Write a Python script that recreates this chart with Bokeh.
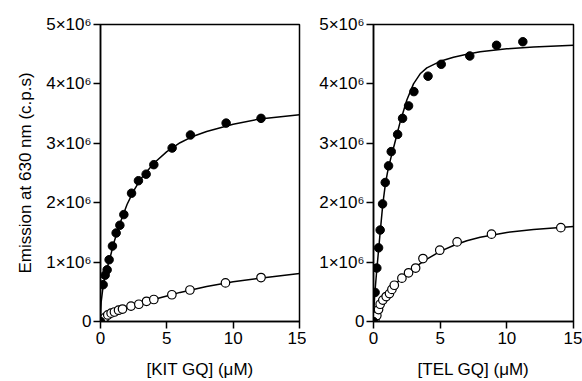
from bokeh.plotting import figure
from bokeh.layouts import row
from bokeh.models import Range1d, FixedTicker
from bokeh.embed import file_html
from bokeh.resources import INLINE

# values in units of 10^6 c.p.s
kit_filled_x = [0, 0.2, 0.35, 0.5, 0.65, 0.9, 1.18, 1.46, 1.76, 2.34, 2.86, 3.44, 4.02, 5.4, 6.78, 9.47, 12.1]
kit_filled_y = [0, 0.62, 0.78, 0.87, 1.04, 1.27, 1.49, 1.62, 1.80, 2.16, 2.37, 2.48, 2.64, 2.92, 3.14, 3.34, 3.42]
kit_open_x = [0, 0.2, 0.35, 0.55, 0.8, 1.05, 1.36, 1.66, 2.3, 2.89, 3.47, 4.02, 5.38, 6.74, 9.42, 12.1]
kit_open_y = [0, 0.04, 0.07, 0.11, 0.14, 0.16, 0.19, 0.21, 0.26, 0.29, 0.34, 0.37, 0.45, 0.53, 0.65, 0.74]

kit_fit_filled_x = [0, 0.02, 0.05, 0.1, 0.2, 0.35, 0.5, 0.75, 1, 1.5, 2, 2.5, 3, 4, 5, 6, 7, 8, 10, 12, 15]
kit_fit_filled_y = [0, 0.2, 0.33, 0.42, 0.6, 0.77, 0.9, 1.1, 1.32, 1.67, 1.97, 2.2, 2.39, 2.66, 2.86, 3.01, 3.12, 3.2, 3.32, 3.41, 3.48]
kit_fit_open_x = [0, 0.25, 0.5, 1, 1.5, 2, 3, 4, 5, 6, 7, 8, 10, 12, 15]
kit_fit_open_y = [0, 0.06, 0.1, 0.16, 0.2, 0.24, 0.31, 0.37, 0.43, 0.49, 0.54, 0.59, 0.67, 0.73, 0.81]

tel_filled_x = [0, 0.12, 0.25, 0.38, 0.5, 0.68, 0.88, 1.13, 1.33, 1.81, 2.18, 2.63, 3.03, 4.09, 5.08, 7.22, 9.23, 11.2]
tel_filled_y = [0, 0.49, 0.90, 1.24, 1.54, 1.98, 2.34, 2.62, 2.86, 3.15, 3.42, 3.63, 3.87, 4.13, 4.33, 4.47, 4.65, 4.71]
tel_open_x = [0, 0.1, 0.25, 0.38, 0.5, 0.7, 0.95, 1.2, 1.38, 1.56, 2.13, 2.63, 3.16, 3.71, 4.97, 6.27, 8.85, 14.05]
tel_open_y = [0, 0.03, 0.1, 0.2, 0.29, 0.36, 0.42, 0.47, 0.54, 0.61, 0.73, 0.82, 0.90, 1.06, 1.20, 1.34, 1.47, 1.58]

tel_fit_filled_x = [0, 0.05, 0.1, 0.25, 0.4, 0.5, 0.7, 0.9, 1.1, 1.3, 1.5, 1.75, 2, 2.5, 3, 3.5, 4, 5, 6, 7, 8, 10, 12, 15]
tel_fit_filled_y = [0, 0.28, 0.48, 0.88, 1.25, 1.5, 1.98, 2.33, 2.57, 2.75, 2.92, 3.14, 3.36, 3.73, 4.0, 4.17, 4.27, 4.38, 4.45, 4.5, 4.54, 4.59, 4.62, 4.65]
tel_fit_open_x = [0, 0.25, 0.5, 1, 1.5, 2, 2.5, 3, 4, 5, 6, 7, 8, 10, 12, 15]
tel_fit_open_y = [0, 0.13, 0.26, 0.45, 0.59, 0.71, 0.81, 0.90, 1.05, 1.18, 1.28, 1.36, 1.42, 1.5, 1.55, 1.6]

x_ticks = [0, 5, 10, 15]
y_ticks = [0, 1, 2, 3, 4, 5]
y_tick_labels = ["0", "1×10⁶", "2×10⁶", "3×10⁶", "4×10⁶", "5×10⁶"]

FONT = "Liberation Sans"
FS = "17px"


def make_panel(width, border_left, border_right, xlabel, ylabel,
               fx, fy, ox, oy, cfx, cfy, cox, coy):
    p = figure(width=width, height=381, output_backend="svg", toolbar_location=None,
               x_range=Range1d(0, 15), y_range=Range1d(0, 5),
               min_border_left=border_left, min_border_right=border_right,
               min_border_top=24, min_border_bottom=59)
    p.grid.visible = False
    p.outline_line_color = "black"
    p.outline_line_width = 1.5
    p.background_fill_color = "white"
    p.border_fill_color = "white"
    for ax in (p.xaxis[0], p.yaxis[0]):
        ax.axis_line_width = 1.5
        ax.axis_line_color = "black"
        ax.major_tick_line_width = 1.5
        ax.major_tick_line_color = "black"
        ax.major_tick_out = 7
        ax.major_tick_in = 0
        ax.minor_tick_line_color = None
        ax.major_label_text_font = FONT
        ax.major_label_text_font_size = FS
        ax.major_label_text_color = "black"
        ax.axis_label_text_font = FONT
        ax.axis_label_text_font_size = FS
        ax.axis_label_text_font_style = "normal"
        ax.axis_label_text_color = "black"
    p.xaxis.ticker = FixedTicker(ticks=x_ticks)
    p.yaxis.ticker = FixedTicker(ticks=y_ticks)
    p.yaxis.major_label_overrides = {t: l for t, l in zip(y_ticks, y_tick_labels)}
    p.xaxis.major_label_standoff = 3
    p.xaxis.axis_label_standoff = 13
    p.yaxis.major_label_standoff = 2
    p.xaxis.axis_label = xlabel
    if ylabel:
        p.yaxis.axis_label = ylabel
        p.yaxis.axis_label_standoff = 8
    p.line(cfx, cfy, line_color="black", line_width=1.5)
    p.line(cox, coy, line_color="black", line_width=1.5)
    p.scatter(ox, oy, size=8.5, marker="circle", fill_color="white", line_color="black", line_width=1.2)
    p.scatter(fx, fy, size=8.5, marker="circle", fill_color="black", line_color="black")
    return p


p1 = make_panel(306, 100, 7, "[KIT GQ] (μM)", "Emission at 630 nm (c.p.s)",
                kit_filled_x, kit_filled_y, kit_open_x, kit_open_y,
                kit_fit_filled_x, kit_fit_filled_y, kit_fit_open_x, kit_fit_open_y)
p2 = make_panel(276, 67, 9, "[TEL GQ] (μM)", None,
                tel_filled_x, tel_filled_y, tel_open_x, tel_open_y,
                tel_fit_filled_x, tel_fit_filled_y, tel_fit_open_x, tel_fit_open_y)

layout = row(p1, p2, spacing=0)
open("out.html", "w").write(file_html(layout, INLINE))
